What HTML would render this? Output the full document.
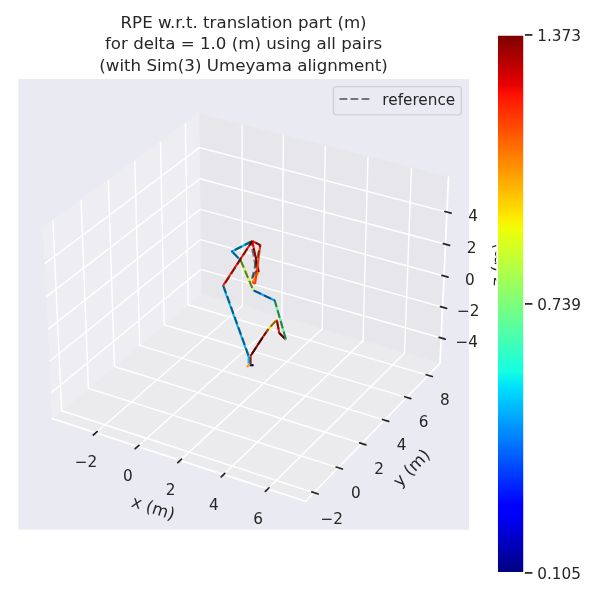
<!DOCTYPE html>
<html><head><meta charset="utf-8"><title>RPE plot</title>
<style>html,body{margin:0;padding:0;background:#fff;overflow:hidden}svg{display:block}</style>
</head><body>
<svg width="600" height="600" viewBox="0 0 432 432">
 
 <defs>
  <style type="text/css">*{stroke-linejoin: round; stroke-linecap: butt}</style>
 </defs>
 <g id="figure_1">
  <g id="patch_1">
   <path d="M 0 432 
L 432 432 
L 432 0 
L 0 0 
z
" style="fill: #ffffff"/>
  </g>
  <g id="patch_2">
   <path d="M 13.176 381.384 
L 337.68 381.384 
L 337.68 56.88 
L 13.176 56.88 
z
" style="fill: #eaeaf2"/>
  </g>
  <g id="pane3d_1">
   <g id="patch_3">
    <path d="M 37.67829 301.371713 
L 144.840109 211.546552 
L 143.350457 82.002612 
L 31.060392 163.946786 
" style="fill: #f2f2f2; opacity: 0.5; stroke: #f2f2f2; stroke-linejoin: miter"/>
   </g>
  </g>
  <g id="pane3d_2">
   <g id="patch_4">
    <path d="M 144.840109 211.546552 
L 316.796592 261.527513 
L 322.933113 127.52158 
L 143.350457 82.002612 
" style="fill: #e6e6e6; opacity: 0.5; stroke: #e6e6e6; stroke-linejoin: miter"/>
   </g>
  </g>
  <g id="pane3d_3">
   <g id="patch_5">
    <path d="M 37.67829 301.371713 
L 219.960561 360.905102 
L 316.796592 261.527513 
L 144.840109 211.546552 
" style="fill: #ececec; opacity: 0.5; stroke: #ececec; stroke-linejoin: miter"/>
   </g>
  </g>
  <g id="grid3d_1">
   <g id="Line3DCollection_1">
    <path d="M 69.034335 311.612597 
L 174.528208 220.17571 
L 174.301091 89.847695 
" style="fill: none; stroke: #ffffff"/>
    <path d="M 99.155785 321.450263 
L 203.004888 228.452757 
L 204.009981 97.378033 
" style="fill: none; stroke: #ffffff"/>
    <path d="M 129.816132 331.463932 
L 231.948367 236.865484 
L 234.227155 105.037206 
" style="fill: none; stroke: #ffffff"/>
    <path d="M 161.02997 341.658372 
L 261.370219 245.417254 
L 264.96577 112.828549 
" style="fill: none; stroke: #ffffff"/>
    <path d="M 192.812422 352.03852 
L 291.282401 254.111545 
L 296.239442 120.755513 
" style="fill: none; stroke: #ffffff"/>
   </g>
  </g>
  <g id="grid3d_2">
   <g id="Line3DCollection_2">
    <path d="M 38.096173 158.812394 
L 44.36889 295.763519 
L 226.03155 354.674774 
" style="fill: none; stroke: #ffffff"/>
    <path d="M 58.361051 144.024009 
L 63.657332 279.595564 
L 243.514951 336.732504 
" style="fill: none; stroke: #ffffff"/>
    <path d="M 78.009021 129.685815 
L 82.383824 263.898648 
L 260.462395 319.340257 
" style="fill: none; stroke: #ffffff"/>
    <path d="M 97.06783 115.777564 
L 100.572571 248.65248 
L 276.898154 302.473125 
" style="fill: none; stroke: #ffffff"/>
    <path d="M 115.563587 102.280203 
L 118.246407 233.83792 
L 292.845059 286.107678 
" style="fill: none; stroke: #ffffff"/>
    <path d="M 133.52088 89.175789 
L 135.426892 219.436896 
L 308.324598 270.221862 
" style="fill: none; stroke: #ffffff"/>
   </g>
  </g>
  <g id="grid3d_3">
   <g id="Line3DCollection_3">
    <path d="M 317.628872 243.352631 
L 144.637702 193.944754 
L 36.782029 282.76027 
" style="fill: none; stroke: #ffffff"/>
    <path d="M 318.64392 221.186586 
L 144.391004 172.491289 
L 35.688396 260.050277 
" style="fill: none; stroke: #ffffff"/>
    <path d="M 319.674031 198.6916 
L 144.140822 150.734777 
L 34.57791 236.990322 
" style="fill: none; stroke: #ffffff"/>
    <path d="M 320.719542 175.860298 
L 143.88708 128.668752 
L 33.450179 213.572252 
" style="fill: none; stroke: #ffffff"/>
    <path d="M 321.780803 152.68508 
L 143.629703 106.286561 
L 32.304797 189.787661 
" style="fill: none; stroke: #ffffff"/>
   </g>
  </g>
  <g id="axis3d_1">
   <g id="line2d_1">
    <path d="M 37.67829 301.371713 
L 219.960561 360.905102 
" style="fill: none; stroke: #ffffff; stroke-width: 1.25; stroke-linecap: round"/>
   </g>
   <g id="xtick_1">
    <g id="line2d_2">
     <path d="M 179.813189 214.746811 
" clip-path="url(#p7f2c31a865)" style="fill: none; stroke: #ffffff; stroke-linecap: round"/>
    </g>
    <g id="line2d_3">
     <path d="M 69.953418 310.815981 
L 67.1922 313.209269 
" style="fill: none; stroke: #262626; stroke-width: 1.25; stroke-linecap: round"/>
    </g>
    <g id="text_1">
     <text style="font-size: 11px; font-family: 'DejaVu Sans', 'Liberation Sans', sans-serif; text-anchor: middle; fill: #262626" x="61.927" y="336.336" transform="rotate(-0 61.927 336.336)">−2</text>
    </g>
   </g>
   <g id="xtick_2">
    <g id="line2d_4">
     <path d="M 179.813189 214.746811 
" clip-path="url(#p7f2c31a865)" style="fill: none; stroke: #ffffff; stroke-linecap: round"/>
    </g>
    <g id="line2d_5">
     <path d="M 100.061194 320.639463 
L 97.341023 323.075393 
" style="fill: none; stroke: #262626; stroke-width: 1.25; stroke-linecap: round"/>
    </g>
    <g id="text_2">
     <text style="font-size: 11px; font-family: 'DejaVu Sans', 'Liberation Sans', sans-serif; text-anchor: middle; fill: #262626" x="92.075" y="346.345" transform="rotate(-0 92.075 346.345)">0</text>
    </g>
   </g>
   <g id="xtick_3">
    <g id="line2d_6">
     <path d="M 179.813189 214.746811 
" clip-path="url(#p7f2c31a865)" style="fill: none; stroke: #ffffff; stroke-linecap: round"/>
    </g>
    <g id="line2d_7">
     <path d="M 130.707229 330.638567 
L 128.030023 333.118289 
" style="fill: none; stroke: #262626; stroke-width: 1.25; stroke-linecap: round"/>
    </g>
    <g id="text_3">
     <text style="font-size: 11px; font-family: 'DejaVu Sans', 'Liberation Sans', sans-serif; text-anchor: middle; fill: #262626" x="122.764" y="356.533" transform="rotate(-0 122.764 356.533)">2</text>
    </g>
   </g>
   <g id="xtick_4">
    <g id="line2d_8">
     <path d="M 179.813189 214.746811 
" clip-path="url(#p7f2c31a865)" style="fill: none; stroke: #ffffff; stroke-linecap: round"/>
    </g>
    <g id="line2d_9">
     <path d="M 161.906088 340.818045 
L 159.273849 343.34275 
" style="fill: none; stroke: #262626; stroke-width: 1.25; stroke-linecap: round"/>
    </g>
    <g id="text_4">
     <text style="font-size: 11px; font-family: 'DejaVu Sans', 'Liberation Sans', sans-serif; text-anchor: middle; fill: #262626" x="154.008" y="366.906" transform="rotate(-0 154.008 366.906)">4</text>
    </g>
   </g>
   <g id="xtick_5">
    <g id="line2d_10">
     <path d="M 179.813189 214.746811 
" clip-path="url(#p7f2c31a865)" style="fill: none; stroke: #ffffff; stroke-linecap: round"/>
    </g>
    <g id="line2d_11">
     <path d="M 193.672865 351.182822 
L 191.087685 353.753746 
" style="fill: none; stroke: #262626; stroke-width: 1.25; stroke-linecap: round"/>
    </g>
    <g id="text_5">
     <text style="font-size: 11px; font-family: 'DejaVu Sans', 'Liberation Sans', sans-serif; text-anchor: middle; fill: #262626" x="185.824" y="377.469" transform="rotate(-0 185.824 377.469)">6</text>
    </g>
   </g>
   <g id="text_6">
    <text style="font-size: 12px; font-family: 'DejaVu Sans', 'Liberation Sans', sans-serif; text-anchor: middle; fill: #262626" x="109.122" y="369.441" transform="rotate(-341.912962 109.122 369.441)">x (m)</text>
   </g>
  </g>
  <g id="axis3d_2">
   <g id="line2d_12">
    <path d="M 316.796592 261.527513 
L 219.960561 360.905102 
" style="fill: none; stroke: #ffffff; stroke-width: 1.25; stroke-linecap: round"/>
   </g>
   <g id="xtick_6">
    <g id="line2d_13">
     <path d="M 179.813189 214.746811 
" clip-path="url(#p7f2c31a865)" style="fill: none; stroke: #ffffff; stroke-linecap: round"/>
    </g>
    <g id="line2d_14">
     <path d="M 224.50063 354.178313 
L 229.097352 355.668981 
" style="fill: none; stroke: #262626; stroke-width: 1.25; stroke-linecap: round"/>
    </g>
    <g id="text_7">
     <text style="font-size: 11px; font-family: 'DejaVu Sans', 'Liberation Sans', sans-serif; text-anchor: middle; fill: #262626" x="238.918" y="377.013" transform="rotate(-0 238.918 377.013)">−2</text>
    </g>
   </g>
   <g id="xtick_7">
    <g id="line2d_15">
     <path d="M 179.813189 214.746811 
" clip-path="url(#p7f2c31a865)" style="fill: none; stroke: #ffffff; stroke-linecap: round"/>
    </g>
    <g id="line2d_16">
     <path d="M 242.000438 336.251375 
L 246.547834 337.695987 
" style="fill: none; stroke: #262626; stroke-width: 1.25; stroke-linecap: round"/>
    </g>
    <g id="text_8">
     <text style="font-size: 11px; font-family: 'DejaVu Sans', 'Liberation Sans', sans-serif; text-anchor: middle; fill: #262626" x="256.209" y="358.853" transform="rotate(-0 256.209 358.853)">0</text>
    </g>
   </g>
   <g id="xtick_8">
    <g id="line2d_17">
     <path d="M 179.813189 214.746811 
" clip-path="url(#p7f2c31a865)" style="fill: none; stroke: #ffffff; stroke-linecap: round"/>
    </g>
    <g id="line2d_18">
     <path d="M 258.96401 318.873762 
L 263.462922 320.274419 
" style="fill: none; stroke: #262626; stroke-width: 1.25; stroke-linecap: round"/>
    </g>
    <g id="text_9">
     <text style="font-size: 11px; font-family: 'DejaVu Sans', 'Liberation Sans', sans-serif; text-anchor: middle; fill: #262626" x="272.970" y="341.250" transform="rotate(-0 272.970 341.250)">2</text>
    </g>
   </g>
   <g id="xtick_9">
    <g id="line2d_19">
     <path d="M 179.813189 214.746811 
" clip-path="url(#p7f2c31a865)" style="fill: none; stroke: #ffffff; stroke-linecap: round"/>
    </g>
    <g id="line2d_20">
     <path d="M 275.415622 302.020605 
L 279.866882 303.379283 
" style="fill: none; stroke: #262626; stroke-width: 1.25; stroke-linecap: round"/>
    </g>
    <g id="text_10">
     <text style="font-size: 11px; font-family: 'DejaVu Sans', 'Liberation Sans', sans-serif; text-anchor: middle; fill: #262626" x="289.224" y="324.178" transform="rotate(-0 289.224 324.178)">4</text>
    </g>
   </g>
   <g id="xtick_10">
    <g id="line2d_21">
     <path d="M 179.813189 214.746811 
" clip-path="url(#p7f2c31a865)" style="fill: none; stroke: #ffffff; stroke-linecap: round"/>
    </g>
    <g id="line2d_22">
     <path d="M 291.378105 285.668515 
L 295.782536 286.987073 
" style="fill: none; stroke: #262626; stroke-width: 1.25; stroke-linecap: round"/>
    </g>
    <g id="text_11">
     <text style="font-size: 11px; font-family: 'DejaVu Sans', 'Liberation Sans', sans-serif; text-anchor: middle; fill: #262626" x="304.995" y="307.615" transform="rotate(-0 304.995 307.615)">6</text>
    </g>
   </g>
   <g id="xtick_11">
    <g id="line2d_23">
     <path d="M 179.813189 214.746811 
" clip-path="url(#p7f2c31a865)" style="fill: none; stroke: #ffffff; stroke-linecap: round"/>
    </g>
    <g id="line2d_24">
     <path d="M 306.872953 269.795473 
L 311.231369 271.075663 
" style="fill: none; stroke: #262626; stroke-width: 1.25; stroke-linecap: round"/>
    </g>
    <g id="text_12">
     <text style="font-size: 11px; font-family: 'DejaVu Sans', 'Liberation Sans', sans-serif; text-anchor: middle; fill: #262626" x="320.304" y="291.537" transform="rotate(-0 320.304 291.537)">8</text>
    </g>
   </g>
   <g id="text_13">
    <text style="font-size: 12px; font-family: 'DejaVu Sans', 'Liberation Sans', sans-serif; text-anchor: middle; fill: #262626" x="299.162" y="339.737" transform="rotate(-45.742112 299.162 339.737)">y (m)</text>
   </g>
  </g>
  <g id="axis3d_3">
   <g id="line2d_25">
    <path d="M 316.796592 261.527513 
L 322.933113 127.52158 
" style="fill: none; stroke: #ffffff; stroke-width: 1.25; stroke-linecap: round"/>
   </g>
   <g id="xtick_12">
    <g id="line2d_26">
     <path d="M 179.813189 214.746811 
" style="fill: none; stroke: #ffffff; stroke-linecap: round"/>
    </g>
    <g id="line2d_27">
     <path d="M 316.176587 242.937845 
L 320.536918 244.183196 
" style="fill: none; stroke: #262626; stroke-width: 1.25; stroke-linecap: round"/>
    </g>
    <g id="text_14">
     <text style="font-size: 11px; font-family: 'DejaVu Sans', 'Liberation Sans', sans-serif; text-anchor: middle; fill: #262626" x="335.996" y="249.684" transform="rotate(-0 335.996 249.684)">−4</text>
    </g>
   </g>
   <g id="xtick_13">
    <g id="line2d_28">
     <path d="M 179.813189 214.746811 
" style="fill: none; stroke: #ffffff; stroke-linecap: round"/>
    </g>
    <g id="line2d_29">
     <path d="M 317.180535 220.77764 
L 321.574216 222.005463 
" style="fill: none; stroke: #262626; stroke-width: 1.25; stroke-linecap: round"/>
    </g>
    <g id="text_15">
     <text style="font-size: 11px; font-family: 'DejaVu Sans', 'Liberation Sans', sans-serif; text-anchor: middle; fill: #262626" x="337.143" y="227.554" transform="rotate(-0 337.143 227.554)">−2</text>
    </g>
   </g>
   <g id="xtick_14">
    <g id="line2d_30">
     <path d="M 179.813189 214.746811 
" style="fill: none; stroke: #ffffff; stroke-linecap: round"/>
    </g>
    <g id="line2d_31">
     <path d="M 318.199376 198.288715 
L 322.626921 199.498349 
" style="fill: none; stroke: #262626; stroke-width: 1.25; stroke-linecap: round"/>
    </g>
    <g id="text_16">
     <text style="font-size: 11px; font-family: 'DejaVu Sans', 'Liberation Sans', sans-serif; text-anchor: middle; fill: #262626" x="338.308" y="205.097" transform="rotate(-0 338.308 205.097)">0</text>
    </g>
   </g>
   <g id="xtick_15">
    <g id="line2d_32">
     <path d="M 179.813189 214.746811 
" style="fill: none; stroke: #ffffff; stroke-linecap: round"/>
    </g>
    <g id="line2d_33">
     <path d="M 319.233443 175.463701 
L 323.695377 176.654464 
" style="fill: none; stroke: #262626; stroke-width: 1.25; stroke-linecap: round"/>
    </g>
    <g id="text_17">
     <text style="font-size: 11px; font-family: 'DejaVu Sans', 'Liberation Sans', sans-serif; text-anchor: middle; fill: #262626" x="339.490" y="182.304" transform="rotate(-0 339.490 182.304)">2</text>
    </g>
   </g>
   <g id="xtick_16">
    <g id="line2d_34">
     <path d="M 179.813189 214.746811 
" style="fill: none; stroke: #ffffff; stroke-linecap: round"/>
    </g>
    <g id="line2d_35">
     <path d="M 320.28308 152.295006 
L 324.779941 153.46619 
" style="fill: none; stroke: #262626; stroke-width: 1.25; stroke-linecap: round"/>
    </g>
    <g id="text_18">
     <text style="font-size: 11px; font-family: 'DejaVu Sans', 'Liberation Sans', sans-serif; text-anchor: middle; fill: #262626" x="340.689" y="159.170" transform="rotate(-0 340.689 159.170)">4</text>
    </g>
   </g>
   <g id="text_19">
    <text style="font-size: 12px; font-family: 'DejaVu Sans', 'Liberation Sans', sans-serif; text-anchor: middle; fill: #262626" x="362.669" y="190.728" transform="rotate(-87.378092 362.669 190.728)">z (m)</text>
   </g>
  </g>
  <g id="axes_1">
   <g id="traj" transform="scale(0.72)" fill="none" stroke-width="2.083" stroke-linecap="butt" stroke-linejoin="round">
<path d="M 253.50 365.30 L 249.50 365.10" stroke="#00008c" stroke-linecap="round"/>
<path d="M 250.50 363.80 L 250.50 356.00" stroke="#ff4a00" stroke-linecap="round"/>
<path d="M 246.80 366.80 L 250.20 364.00" stroke="#ff9800" stroke-linecap="round"/>
<path d="M 250.50 356.00 L 263.30 336.40" stroke="#960000" stroke-linecap="round"/>
<path d="M 263.30 336.40 L 266.25 332.00" stroke="#e80000" stroke-linecap="round"/>
<path d="M 266.25 332.00 L 268.75 328.75" stroke="#ff9400" stroke-linecap="round"/>
<path d="M 268.75 328.75 L 276.75 319.75" stroke="#ffd400" stroke-linecap="round"/>
<path d="M 276.75 319.75 L 279.25 333.00" stroke="#ff1300" stroke-linecap="round"/>
<path d="M 279.25 333.00 L 286.00 339.75" stroke="#b00000" stroke-linecap="round"/>
<path d="M 286.00 339.75 L 274.75 300.50" stroke="#50ffa0" stroke-linecap="round"/>
<path d="M 274.75 300.50 L 253.25 290.25" stroke="#00a4ff" stroke-linecap="round"/>
<path d="M 253.25 290.25 L 240.75 260.50" stroke="#beff39" stroke-linecap="round"/>
<path d="M 240.75 260.50 L 232.00 251.50" stroke="#00c0ff" stroke-linecap="round"/>
<path d="M 232.00 251.50 L 252.25 241.00" stroke="#00c0ff" stroke-linecap="round"/>
<path d="M 252.25 241.00 L 260.30 245.10" stroke="#ff1300" stroke-linecap="round"/>
<path d="M 252.30 282.20 L 258.75 272.00" stroke="#ff9400" stroke-linecap="round"/>
<path d="M 258.75 272.00 L 253.65 247.65" stroke="#900000" stroke-linecap="round"/>
<path d="M 253.65 247.65 L 252.25 241.00" stroke="#f00000" stroke-linecap="round"/>
<path d="M 260.30 245.10 L 255.10 283.90" stroke="#ff3800" stroke-linecap="round"/>
<path d="M 255.10 283.90 L 252.30 282.20" stroke="#ff3800" stroke-linecap="round"/>
<path d="M 252.25 241.00 L 223.00 285.75" stroke="#ff1300" stroke-linecap="round"/>
<path d="M 223.00 285.75 L 248.75 357.00" stroke="#00b4ff" stroke-linecap="round"/>
<path d="M 248.75 357.00 L 248.50 363.50" stroke="#00b4ff" stroke-linecap="round"/>
<circle cx="232.00" cy="251.50" r="1.05" fill="#0030ff" stroke="none"/>
<path d="M 249.20 357.00 L 223.50 285.80 L 252.25 241.00" stroke="#000" stroke-opacity="0.5" stroke-dasharray="7.71 3.33" stroke-dashoffset="9.29"/>
<path d="M 252.25 241.00 L 260.30 245.10 L 252.00 278.80" stroke="#000" stroke-opacity="0.5" stroke-dasharray="7.71 3.33" stroke-dashoffset="7.44"/>
<path d="M 252.00 278.80 L 256.40 270.30 L 250.80 241.80" stroke="#000" stroke-opacity="0.5" stroke-dasharray="7.71 3.33" stroke-dashoffset="9.54"/>
<path d="M 250.80 241.80 L 232.00 251.50" stroke="#000" stroke-opacity="0.5" stroke-dasharray="7.71 3.33" stroke-dashoffset="0.79"/>
<path d="M 232.00 251.50 L 240.75 260.50 L 253.25 290.25 L 274.75 300.50 L 286.00 339.75 L 279.25 333.00 L 276.75 319.75 L 268.75 328.75 L 266.25 332.00 L 250.50 356.00 L 250.50 363.80 L 249.50 365.10 L 253.50 365.30" stroke="#000" stroke-opacity="0.5" stroke-dasharray="7.71 3.33" stroke-dashoffset="9.53"/>
</g>
   <g id="text_20">
    <text style="font-size: 12px; font-family: 'DejaVu Sans', 'Liberation Sans', sans-serif; fill: #262626" transform="translate(86.779875 20.45)">RPE w.r.t. translation part (m)</text>
    <text style="font-size: 12px; font-family: 'DejaVu Sans', 'Liberation Sans', sans-serif; fill: #262626" transform="translate(75.574875 35.57)">for delta = 1.0 (m) using all pairs</text>
    <text style="font-size: 12px; font-family: 'DejaVu Sans', 'Liberation Sans', sans-serif; fill: #262626" transform="translate(71.487375 50.88)">(with Sim(3) Umeyama alignment)</text>
   </g>
   <g id="legend_1">
    <g id="patch_6">
     <path d="M 242.265312 82.69 
L 329.98 82.69 
Q 332.18 82.69 332.18 80.49 
L 332.18 64.58 
Q 332.18 62.38 329.98 62.38 
L 242.265312 62.38 
Q 240.065313 62.38 240.065313 64.58 
L 240.065313 80.49 
Q 240.065313 82.69 242.265312 82.69 
z
" style="fill: #eaeaf2; opacity: 0.8; stroke: #cccccc; stroke-linejoin: miter"/>
    </g>
    <g id="line2d_37">
     <path d="M 244.465313 71.288281 
L 255.465313 71.288281 
L 266.465312 71.288281 
" style="fill: none; stroke-dasharray: 5.55,2.4; stroke-dashoffset: 0; stroke: #000000; stroke-opacity: 0.5; stroke-width: 1.5"/>
    </g>
    <g id="text_21">
     <text style="font-size: 11px; font-family: 'DejaVu Sans', 'Liberation Sans', sans-serif; text-anchor: start; fill: #262626" x="275.265" y="75.688" transform="rotate(-0 275.265 75.688)">reference</text>
    </g>
   </g>
  </g>
  <g id="axes_2">
   <g id="patch_7">
    <path d="M 357.912 412.488 
L 377.352 412.488 
L 377.352 25.128 
L 357.912 25.128 
z
" style="fill: #eaeaf2"/>
   </g>
   <g id="matplotlib.axis_1"/>
   <g id="matplotlib.axis_2">
    <g id="ytick_1">
     <g id="line2d_38">
      <path d="M 357.912 412.488 
L 377.352 412.488 
" clip-path="url(#p408b07b83e)" style="fill: none; stroke: #ffffff; stroke-linecap: round"/>
     </g>
     <g id="line2d_39">
      <defs>
       <path id="m83cedf2c6c" d="M 0 0 
L 6 0 
" style="stroke: #262626; stroke-width: 1.25"/>
      </defs>
      <g>
       <use href="#m83cedf2c6c" x="377.352" y="412.488" style="fill: #262626; stroke: #262626; stroke-width: 1.25"/>
      </g>
     </g>
     <g id="text_22">
      <text style="font-size: 11px; font-family: 'DejaVu Sans', 'Liberation Sans', sans-serif; text-anchor: start; fill: #262626" x="386.852" y="416.967" transform="rotate(-0 386.852 416.967)">0.105</text>
     </g>
    </g>
    <g id="ytick_2">
     <g id="line2d_40">
      <path d="M 357.912 218.808 
L 377.352 218.808 
" clip-path="url(#p408b07b83e)" style="fill: none; stroke: #ffffff; stroke-linecap: round"/>
     </g>
     <g id="line2d_41">
      <g>
       <use href="#m83cedf2c6c" x="377.352" y="218.808" style="fill: #262626; stroke: #262626; stroke-width: 1.25"/>
      </g>
     </g>
     <g id="text_23">
      <text style="font-size: 11px; font-family: 'DejaVu Sans', 'Liberation Sans', sans-serif; text-anchor: start; fill: #262626" x="386.852" y="223.287" transform="rotate(-0 386.852 223.287)">0.739</text>
     </g>
    </g>
    <g id="ytick_3">
     <g id="line2d_42">
      <path d="M 357.912 25.128 
L 377.352 25.128 
" clip-path="url(#p408b07b83e)" style="fill: none; stroke: #ffffff; stroke-linecap: round"/>
     </g>
     <g id="line2d_43">
      <g>
       <use href="#m83cedf2c6c" x="377.352" y="25.128" style="fill: #262626; stroke: #262626; stroke-width: 1.25"/>
      </g>
     </g>
     <g id="text_24">
      <text style="font-size: 11px; font-family: 'DejaVu Sans', 'Liberation Sans', sans-serif; text-anchor: start; fill: #262626" x="386.852" y="29.607" transform="rotate(-0 386.852 29.607)">1.373</text>
     </g>
    </g>
   </g>
   <g id="cbar" shape-rendering="crispEdges">
<rect x="357.912" y="410.975" width="19.440" height="1.813" fill="#000080"/>
<rect x="357.912" y="409.462" width="19.440" height="1.813" fill="#000084"/>
<rect x="357.912" y="407.949" width="19.440" height="1.813" fill="#000089"/>
<rect x="357.912" y="406.435" width="19.440" height="1.813" fill="#00008d"/>
<rect x="357.912" y="404.922" width="19.440" height="1.813" fill="#000092"/>
<rect x="357.912" y="403.409" width="19.440" height="1.813" fill="#000096"/>
<rect x="357.912" y="401.896" width="19.440" height="1.813" fill="#00009b"/>
<rect x="357.912" y="400.383" width="19.440" height="1.813" fill="#00009f"/>
<rect x="357.912" y="398.870" width="19.440" height="1.813" fill="#0000a4"/>
<rect x="357.912" y="397.357" width="19.440" height="1.813" fill="#0000a8"/>
<rect x="357.912" y="395.844" width="19.440" height="1.813" fill="#0000ad"/>
<rect x="357.912" y="394.330" width="19.440" height="1.813" fill="#0000b2"/>
<rect x="357.912" y="392.817" width="19.440" height="1.813" fill="#0000b6"/>
<rect x="357.912" y="391.304" width="19.440" height="1.813" fill="#0000bb"/>
<rect x="357.912" y="389.791" width="19.440" height="1.813" fill="#0000bf"/>
<rect x="357.912" y="388.278" width="19.440" height="1.813" fill="#0000c4"/>
<rect x="357.912" y="386.765" width="19.440" height="1.813" fill="#0000c8"/>
<rect x="357.912" y="385.252" width="19.440" height="1.813" fill="#0000cd"/>
<rect x="357.912" y="383.739" width="19.440" height="1.813" fill="#0000d1"/>
<rect x="357.912" y="382.226" width="19.440" height="1.813" fill="#0000d6"/>
<rect x="357.912" y="380.712" width="19.440" height="1.813" fill="#0000da"/>
<rect x="357.912" y="379.199" width="19.440" height="1.813" fill="#0000df"/>
<rect x="357.912" y="377.686" width="19.440" height="1.813" fill="#0000e3"/>
<rect x="357.912" y="376.173" width="19.440" height="1.813" fill="#0000e8"/>
<rect x="357.912" y="374.660" width="19.440" height="1.813" fill="#0000ed"/>
<rect x="357.912" y="373.147" width="19.440" height="1.813" fill="#0000f1"/>
<rect x="357.912" y="371.634" width="19.440" height="1.813" fill="#0000f6"/>
<rect x="357.912" y="370.120" width="19.440" height="1.813" fill="#0000fa"/>
<rect x="357.912" y="368.607" width="19.440" height="1.813" fill="#0000ff"/>
<rect x="357.912" y="367.094" width="19.440" height="1.813" fill="#0000ff"/>
<rect x="357.912" y="365.581" width="19.440" height="1.813" fill="#0000ff"/>
<rect x="357.912" y="364.068" width="19.440" height="1.813" fill="#0000ff"/>
<rect x="357.912" y="362.555" width="19.440" height="1.813" fill="#0000ff"/>
<rect x="357.912" y="361.042" width="19.440" height="1.813" fill="#0004ff"/>
<rect x="357.912" y="359.529" width="19.440" height="1.813" fill="#0008ff"/>
<rect x="357.912" y="358.015" width="19.440" height="1.813" fill="#000cff"/>
<rect x="357.912" y="356.502" width="19.440" height="1.813" fill="#0010ff"/>
<rect x="357.912" y="354.989" width="19.440" height="1.813" fill="#0014ff"/>
<rect x="357.912" y="353.476" width="19.440" height="1.813" fill="#0018ff"/>
<rect x="357.912" y="351.963" width="19.440" height="1.813" fill="#001cff"/>
<rect x="357.912" y="350.450" width="19.440" height="1.813" fill="#0020ff"/>
<rect x="357.912" y="348.937" width="19.440" height="1.813" fill="#0024ff"/>
<rect x="357.912" y="347.424" width="19.440" height="1.813" fill="#0028ff"/>
<rect x="357.912" y="345.911" width="19.440" height="1.813" fill="#002cff"/>
<rect x="357.912" y="344.397" width="19.440" height="1.813" fill="#0030ff"/>
<rect x="357.912" y="342.884" width="19.440" height="1.813" fill="#0034ff"/>
<rect x="357.912" y="341.371" width="19.440" height="1.813" fill="#0038ff"/>
<rect x="357.912" y="339.858" width="19.440" height="1.813" fill="#003cff"/>
<rect x="357.912" y="338.345" width="19.440" height="1.813" fill="#0040ff"/>
<rect x="357.912" y="336.832" width="19.440" height="1.813" fill="#0044ff"/>
<rect x="357.912" y="335.319" width="19.440" height="1.813" fill="#0048ff"/>
<rect x="357.912" y="333.805" width="19.440" height="1.813" fill="#004cff"/>
<rect x="357.912" y="332.292" width="19.440" height="1.813" fill="#0050ff"/>
<rect x="357.912" y="330.779" width="19.440" height="1.813" fill="#0054ff"/>
<rect x="357.912" y="329.266" width="19.440" height="1.813" fill="#0058ff"/>
<rect x="357.912" y="327.753" width="19.440" height="1.813" fill="#005cff"/>
<rect x="357.912" y="326.240" width="19.440" height="1.813" fill="#0060ff"/>
<rect x="357.912" y="324.727" width="19.440" height="1.813" fill="#0064ff"/>
<rect x="357.912" y="323.214" width="19.440" height="1.813" fill="#0068ff"/>
<rect x="357.912" y="321.700" width="19.440" height="1.813" fill="#006cff"/>
<rect x="357.912" y="320.187" width="19.440" height="1.813" fill="#0070ff"/>
<rect x="357.912" y="318.674" width="19.440" height="1.813" fill="#0074ff"/>
<rect x="357.912" y="317.161" width="19.440" height="1.813" fill="#0078ff"/>
<rect x="357.912" y="315.648" width="19.440" height="1.813" fill="#007cff"/>
<rect x="357.912" y="314.135" width="19.440" height="1.813" fill="#0080ff"/>
<rect x="357.912" y="312.622" width="19.440" height="1.813" fill="#0084ff"/>
<rect x="357.912" y="311.109" width="19.440" height="1.813" fill="#0088ff"/>
<rect x="357.912" y="309.596" width="19.440" height="1.813" fill="#008cff"/>
<rect x="357.912" y="308.082" width="19.440" height="1.813" fill="#0090ff"/>
<rect x="357.912" y="306.569" width="19.440" height="1.813" fill="#0094ff"/>
<rect x="357.912" y="305.056" width="19.440" height="1.813" fill="#0098ff"/>
<rect x="357.912" y="303.543" width="19.440" height="1.813" fill="#009cff"/>
<rect x="357.912" y="302.030" width="19.440" height="1.813" fill="#00a0ff"/>
<rect x="357.912" y="300.517" width="19.440" height="1.813" fill="#00a4ff"/>
<rect x="357.912" y="299.004" width="19.440" height="1.813" fill="#00a8ff"/>
<rect x="357.912" y="297.490" width="19.440" height="1.813" fill="#00acff"/>
<rect x="357.912" y="295.977" width="19.440" height="1.813" fill="#00b0ff"/>
<rect x="357.912" y="294.464" width="19.440" height="1.813" fill="#00b4ff"/>
<rect x="357.912" y="292.951" width="19.440" height="1.813" fill="#00b8ff"/>
<rect x="357.912" y="291.438" width="19.440" height="1.813" fill="#00bcff"/>
<rect x="357.912" y="289.925" width="19.440" height="1.813" fill="#00c0ff"/>
<rect x="357.912" y="288.412" width="19.440" height="1.813" fill="#00c4ff"/>
<rect x="357.912" y="286.899" width="19.440" height="1.813" fill="#00c8ff"/>
<rect x="357.912" y="285.385" width="19.440" height="1.813" fill="#00ccff"/>
<rect x="357.912" y="283.872" width="19.440" height="1.813" fill="#00d0ff"/>
<rect x="357.912" y="282.359" width="19.440" height="1.813" fill="#00d4ff"/>
<rect x="357.912" y="280.846" width="19.440" height="1.813" fill="#00d8ff"/>
<rect x="357.912" y="279.333" width="19.440" height="1.813" fill="#00dcfe"/>
<rect x="357.912" y="277.820" width="19.440" height="1.813" fill="#00e0fb"/>
<rect x="357.912" y="276.307" width="19.440" height="1.813" fill="#00e4f8"/>
<rect x="357.912" y="274.794" width="19.440" height="1.813" fill="#02e8f4"/>
<rect x="357.912" y="273.281" width="19.440" height="1.813" fill="#06ecf1"/>
<rect x="357.912" y="271.767" width="19.440" height="1.813" fill="#09f0ee"/>
<rect x="357.912" y="270.254" width="19.440" height="1.813" fill="#0cf4eb"/>
<rect x="357.912" y="268.741" width="19.440" height="1.813" fill="#0ff8e7"/>
<rect x="357.912" y="267.228" width="19.440" height="1.813" fill="#13fce4"/>
<rect x="357.912" y="265.715" width="19.440" height="1.813" fill="#16ffe1"/>
<rect x="357.912" y="264.202" width="19.440" height="1.813" fill="#19ffde"/>
<rect x="357.912" y="262.689" width="19.440" height="1.813" fill="#1cffdb"/>
<rect x="357.912" y="261.175" width="19.440" height="1.813" fill="#1fffd7"/>
<rect x="357.912" y="259.662" width="19.440" height="1.813" fill="#23ffd4"/>
<rect x="357.912" y="258.149" width="19.440" height="1.813" fill="#26ffd1"/>
<rect x="357.912" y="256.636" width="19.440" height="1.813" fill="#29ffce"/>
<rect x="357.912" y="255.123" width="19.440" height="1.813" fill="#2cffca"/>
<rect x="357.912" y="253.610" width="19.440" height="1.813" fill="#30ffc7"/>
<rect x="357.912" y="252.097" width="19.440" height="1.813" fill="#33ffc4"/>
<rect x="357.912" y="250.584" width="19.440" height="1.813" fill="#36ffc1"/>
<rect x="357.912" y="249.070" width="19.440" height="1.813" fill="#39ffbe"/>
<rect x="357.912" y="247.557" width="19.440" height="1.813" fill="#3cffba"/>
<rect x="357.912" y="246.044" width="19.440" height="1.813" fill="#40ffb7"/>
<rect x="357.912" y="244.531" width="19.440" height="1.813" fill="#43ffb4"/>
<rect x="357.912" y="243.018" width="19.440" height="1.813" fill="#46ffb1"/>
<rect x="357.912" y="241.505" width="19.440" height="1.813" fill="#49ffad"/>
<rect x="357.912" y="239.992" width="19.440" height="1.813" fill="#4dffaa"/>
<rect x="357.912" y="238.479" width="19.440" height="1.813" fill="#50ffa7"/>
<rect x="357.912" y="236.965" width="19.440" height="1.813" fill="#53ffa4"/>
<rect x="357.912" y="235.452" width="19.440" height="1.813" fill="#56ffa0"/>
<rect x="357.912" y="233.939" width="19.440" height="1.813" fill="#5aff9d"/>
<rect x="357.912" y="232.426" width="19.440" height="1.813" fill="#5dff9a"/>
<rect x="357.912" y="230.913" width="19.440" height="1.813" fill="#60ff97"/>
<rect x="357.912" y="229.400" width="19.440" height="1.813" fill="#63ff94"/>
<rect x="357.912" y="227.887" width="19.440" height="1.813" fill="#66ff90"/>
<rect x="357.912" y="226.374" width="19.440" height="1.813" fill="#6aff8d"/>
<rect x="357.912" y="224.861" width="19.440" height="1.813" fill="#6dff8a"/>
<rect x="357.912" y="223.347" width="19.440" height="1.813" fill="#70ff87"/>
<rect x="357.912" y="221.834" width="19.440" height="1.813" fill="#73ff83"/>
<rect x="357.912" y="220.321" width="19.440" height="1.813" fill="#77ff80"/>
<rect x="357.912" y="218.808" width="19.440" height="1.813" fill="#7aff7d"/>
<rect x="357.912" y="217.295" width="19.440" height="1.813" fill="#7dff7a"/>
<rect x="357.912" y="215.782" width="19.440" height="1.813" fill="#80ff77"/>
<rect x="357.912" y="214.269" width="19.440" height="1.813" fill="#83ff73"/>
<rect x="357.912" y="212.755" width="19.440" height="1.813" fill="#87ff70"/>
<rect x="357.912" y="211.242" width="19.440" height="1.813" fill="#8aff6d"/>
<rect x="357.912" y="209.729" width="19.440" height="1.813" fill="#8dff6a"/>
<rect x="357.912" y="208.216" width="19.440" height="1.813" fill="#90ff66"/>
<rect x="357.912" y="206.703" width="19.440" height="1.813" fill="#94ff63"/>
<rect x="357.912" y="205.190" width="19.440" height="1.813" fill="#97ff60"/>
<rect x="357.912" y="203.677" width="19.440" height="1.813" fill="#9aff5d"/>
<rect x="357.912" y="202.164" width="19.440" height="1.813" fill="#9dff5a"/>
<rect x="357.912" y="200.650" width="19.440" height="1.813" fill="#a0ff56"/>
<rect x="357.912" y="199.137" width="19.440" height="1.813" fill="#a4ff53"/>
<rect x="357.912" y="197.624" width="19.440" height="1.813" fill="#a7ff50"/>
<rect x="357.912" y="196.111" width="19.440" height="1.813" fill="#aaff4d"/>
<rect x="357.912" y="194.598" width="19.440" height="1.813" fill="#adff49"/>
<rect x="357.912" y="193.085" width="19.440" height="1.813" fill="#b1ff46"/>
<rect x="357.912" y="191.572" width="19.440" height="1.813" fill="#b4ff43"/>
<rect x="357.912" y="190.059" width="19.440" height="1.813" fill="#b7ff40"/>
<rect x="357.912" y="188.546" width="19.440" height="1.813" fill="#baff3c"/>
<rect x="357.912" y="187.032" width="19.440" height="1.813" fill="#beff39"/>
<rect x="357.912" y="185.519" width="19.440" height="1.813" fill="#c1ff36"/>
<rect x="357.912" y="184.006" width="19.440" height="1.813" fill="#c4ff33"/>
<rect x="357.912" y="182.493" width="19.440" height="1.813" fill="#c7ff30"/>
<rect x="357.912" y="180.980" width="19.440" height="1.813" fill="#caff2c"/>
<rect x="357.912" y="179.467" width="19.440" height="1.813" fill="#ceff29"/>
<rect x="357.912" y="177.954" width="19.440" height="1.813" fill="#d1ff26"/>
<rect x="357.912" y="176.440" width="19.440" height="1.813" fill="#d4ff23"/>
<rect x="357.912" y="174.927" width="19.440" height="1.813" fill="#d7ff1f"/>
<rect x="357.912" y="173.414" width="19.440" height="1.813" fill="#dbff1c"/>
<rect x="357.912" y="171.901" width="19.440" height="1.813" fill="#deff19"/>
<rect x="357.912" y="170.388" width="19.440" height="1.813" fill="#e1ff16"/>
<rect x="357.912" y="168.875" width="19.440" height="1.813" fill="#e4ff13"/>
<rect x="357.912" y="167.362" width="19.440" height="1.813" fill="#e7ff0f"/>
<rect x="357.912" y="165.849" width="19.440" height="1.813" fill="#ebff0c"/>
<rect x="357.912" y="164.335" width="19.440" height="1.813" fill="#eeff09"/>
<rect x="357.912" y="162.822" width="19.440" height="1.813" fill="#f1fc06"/>
<rect x="357.912" y="161.309" width="19.440" height="1.813" fill="#f4f802"/>
<rect x="357.912" y="159.796" width="19.440" height="1.813" fill="#f8f500"/>
<rect x="357.912" y="158.283" width="19.440" height="1.813" fill="#fbf100"/>
<rect x="357.912" y="156.770" width="19.440" height="1.813" fill="#feed00"/>
<rect x="357.912" y="155.257" width="19.440" height="1.813" fill="#ffea00"/>
<rect x="357.912" y="153.744" width="19.440" height="1.813" fill="#ffe600"/>
<rect x="357.912" y="152.231" width="19.440" height="1.813" fill="#ffe200"/>
<rect x="357.912" y="150.717" width="19.440" height="1.813" fill="#ffde00"/>
<rect x="357.912" y="149.204" width="19.440" height="1.813" fill="#ffdb00"/>
<rect x="357.912" y="147.691" width="19.440" height="1.813" fill="#ffd700"/>
<rect x="357.912" y="146.178" width="19.440" height="1.813" fill="#ffd300"/>
<rect x="357.912" y="144.665" width="19.440" height="1.813" fill="#ffd000"/>
<rect x="357.912" y="143.152" width="19.440" height="1.813" fill="#ffcc00"/>
<rect x="357.912" y="141.639" width="19.440" height="1.813" fill="#ffc800"/>
<rect x="357.912" y="140.125" width="19.440" height="1.813" fill="#ffc400"/>
<rect x="357.912" y="138.612" width="19.440" height="1.813" fill="#ffc100"/>
<rect x="357.912" y="137.099" width="19.440" height="1.813" fill="#ffbd00"/>
<rect x="357.912" y="135.586" width="19.440" height="1.813" fill="#ffb900"/>
<rect x="357.912" y="134.073" width="19.440" height="1.813" fill="#ffb600"/>
<rect x="357.912" y="132.560" width="19.440" height="1.813" fill="#ffb200"/>
<rect x="357.912" y="131.047" width="19.440" height="1.813" fill="#ffae00"/>
<rect x="357.912" y="129.534" width="19.440" height="1.813" fill="#ffab00"/>
<rect x="357.912" y="128.020" width="19.440" height="1.813" fill="#ffa700"/>
<rect x="357.912" y="126.507" width="19.440" height="1.813" fill="#ffa300"/>
<rect x="357.912" y="124.994" width="19.440" height="1.813" fill="#ff9f00"/>
<rect x="357.912" y="123.481" width="19.440" height="1.813" fill="#ff9c00"/>
<rect x="357.912" y="121.968" width="19.440" height="1.813" fill="#ff9800"/>
<rect x="357.912" y="120.455" width="19.440" height="1.813" fill="#ff9400"/>
<rect x="357.912" y="118.942" width="19.440" height="1.813" fill="#ff9100"/>
<rect x="357.912" y="117.429" width="19.440" height="1.813" fill="#ff8d00"/>
<rect x="357.912" y="115.916" width="19.440" height="1.813" fill="#ff8900"/>
<rect x="357.912" y="114.402" width="19.440" height="1.813" fill="#ff8600"/>
<rect x="357.912" y="112.889" width="19.440" height="1.813" fill="#ff8200"/>
<rect x="357.912" y="111.376" width="19.440" height="1.813" fill="#ff7e00"/>
<rect x="357.912" y="109.863" width="19.440" height="1.813" fill="#ff7a00"/>
<rect x="357.912" y="108.350" width="19.440" height="1.813" fill="#ff7700"/>
<rect x="357.912" y="106.837" width="19.440" height="1.813" fill="#ff7300"/>
<rect x="357.912" y="105.324" width="19.440" height="1.813" fill="#ff6f00"/>
<rect x="357.912" y="103.811" width="19.440" height="1.813" fill="#ff6c00"/>
<rect x="357.912" y="102.297" width="19.440" height="1.813" fill="#ff6800"/>
<rect x="357.912" y="100.784" width="19.440" height="1.813" fill="#ff6400"/>
<rect x="357.912" y="99.271" width="19.440" height="1.813" fill="#ff6000"/>
<rect x="357.912" y="97.758" width="19.440" height="1.813" fill="#ff5d00"/>
<rect x="357.912" y="96.245" width="19.440" height="1.813" fill="#ff5900"/>
<rect x="357.912" y="94.732" width="19.440" height="1.813" fill="#ff5500"/>
<rect x="357.912" y="93.219" width="19.440" height="1.813" fill="#ff5200"/>
<rect x="357.912" y="91.706" width="19.440" height="1.813" fill="#ff4e00"/>
<rect x="357.912" y="90.192" width="19.440" height="1.813" fill="#ff4a00"/>
<rect x="357.912" y="88.679" width="19.440" height="1.813" fill="#ff4700"/>
<rect x="357.912" y="87.166" width="19.440" height="1.813" fill="#ff4300"/>
<rect x="357.912" y="85.653" width="19.440" height="1.813" fill="#ff3f00"/>
<rect x="357.912" y="84.140" width="19.440" height="1.813" fill="#ff3b00"/>
<rect x="357.912" y="82.627" width="19.440" height="1.813" fill="#ff3800"/>
<rect x="357.912" y="81.114" width="19.440" height="1.813" fill="#ff3400"/>
<rect x="357.912" y="79.600" width="19.440" height="1.813" fill="#ff3000"/>
<rect x="357.912" y="78.087" width="19.440" height="1.813" fill="#ff2d00"/>
<rect x="357.912" y="76.574" width="19.440" height="1.813" fill="#ff2900"/>
<rect x="357.912" y="75.061" width="19.440" height="1.813" fill="#ff2500"/>
<rect x="357.912" y="73.548" width="19.440" height="1.813" fill="#ff2200"/>
<rect x="357.912" y="72.035" width="19.440" height="1.813" fill="#ff1e00"/>
<rect x="357.912" y="70.522" width="19.440" height="1.813" fill="#ff1a00"/>
<rect x="357.912" y="69.009" width="19.440" height="1.813" fill="#ff1600"/>
<rect x="357.912" y="67.495" width="19.440" height="1.813" fill="#ff1300"/>
<rect x="357.912" y="65.982" width="19.440" height="1.813" fill="#fa0f00"/>
<rect x="357.912" y="64.469" width="19.440" height="1.813" fill="#f60b00"/>
<rect x="357.912" y="62.956" width="19.440" height="1.813" fill="#f10800"/>
<rect x="357.912" y="61.443" width="19.440" height="1.813" fill="#ed0400"/>
<rect x="357.912" y="59.930" width="19.440" height="1.813" fill="#e80000"/>
<rect x="357.912" y="58.417" width="19.440" height="1.813" fill="#e40000"/>
<rect x="357.912" y="56.904" width="19.440" height="1.813" fill="#df0000"/>
<rect x="357.912" y="55.391" width="19.440" height="1.813" fill="#da0000"/>
<rect x="357.912" y="53.877" width="19.440" height="1.813" fill="#d60000"/>
<rect x="357.912" y="52.364" width="19.440" height="1.813" fill="#d10000"/>
<rect x="357.912" y="50.851" width="19.440" height="1.813" fill="#cd0000"/>
<rect x="357.912" y="49.338" width="19.440" height="1.813" fill="#c80000"/>
<rect x="357.912" y="47.825" width="19.440" height="1.813" fill="#c40000"/>
<rect x="357.912" y="46.312" width="19.440" height="1.813" fill="#bf0000"/>
<rect x="357.912" y="44.799" width="19.440" height="1.813" fill="#bb0000"/>
<rect x="357.912" y="43.285" width="19.440" height="1.813" fill="#b60000"/>
<rect x="357.912" y="41.772" width="19.440" height="1.813" fill="#b20000"/>
<rect x="357.912" y="40.259" width="19.440" height="1.813" fill="#ad0000"/>
<rect x="357.912" y="38.746" width="19.440" height="1.813" fill="#a80000"/>
<rect x="357.912" y="37.233" width="19.440" height="1.813" fill="#a40000"/>
<rect x="357.912" y="35.720" width="19.440" height="1.813" fill="#9f0000"/>
<rect x="357.912" y="34.207" width="19.440" height="1.813" fill="#9b0000"/>
<rect x="357.912" y="32.694" width="19.440" height="1.813" fill="#960000"/>
<rect x="357.912" y="31.180" width="19.440" height="1.813" fill="#920000"/>
<rect x="357.912" y="29.667" width="19.440" height="1.813" fill="#8d0000"/>
<rect x="357.912" y="28.154" width="19.440" height="1.813" fill="#890000"/>
<rect x="357.912" y="26.641" width="19.440" height="1.813" fill="#840000"/>
<rect x="357.912" y="25.128" width="19.440" height="1.813" fill="#800000"/>
</g>
   <g id="LineCollection_1"/>
   <g id="patch_8">
    <path d="M 357.912 412.488 
L 367.632 412.488 
L 377.352 412.488 
L 377.352 25.128 
L 367.632 25.128 
L 357.912 25.128 
L 357.912 412.488 
z
" style="fill: none; stroke: #ffffff; stroke-width: 1.25; stroke-linejoin: miter; stroke-linecap: square"/>
   </g>
  </g>
 </g>
 <defs>
  <clipPath id="p7f2c31a865">
   <rect x="13.176" y="56.88" width="324.504" height="324.504"/>
  </clipPath>
  <clipPath id="p408b07b83e">
   <rect x="357.912" y="25.128" width="19.44" height="387.36"/>
  </clipPath>
 </defs>
</svg>

</body></html>
